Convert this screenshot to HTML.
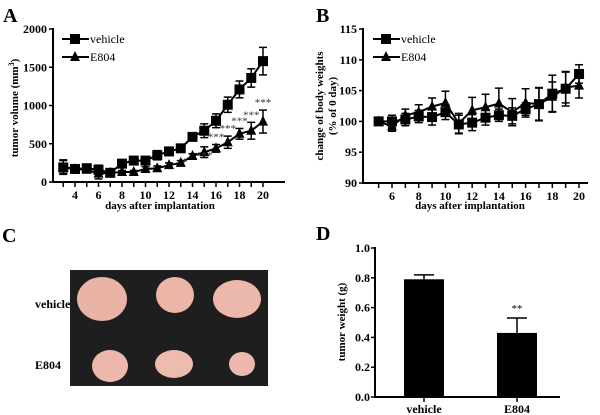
<!DOCTYPE html>
<html><head><meta charset="utf-8"><style>
body{margin:0;background:#fff;}
svg{display:block;font-family:"Liberation Serif",serif;font-weight:bold;}
</style></head><body>
<svg id="fig" width="600" height="415" viewBox="0 0 600 415">
<text x="3" y="22" font-size="20">A</text>
<text x="316" y="22" font-size="20">B</text>
<text x="2" y="242" font-size="20">C</text>
<text x="316" y="240" font-size="20">D</text>
<g id="gA"></g>
<g id="gB"></g>
<g id="gC">
<rect x="70" y="270" width="198" height="116" fill="#1e1e1f"/>
<ellipse cx="102" cy="299" rx="25" ry="22" fill="#e9b3a6"/>
<ellipse cx="175" cy="295" rx="19" ry="18" fill="#ebb5a8"/>
<ellipse cx="237" cy="299" rx="24" ry="19" fill="#ebb8ab"/>
<ellipse cx="110" cy="366" rx="18" ry="16" fill="#ebb8ab"/>
<ellipse cx="174" cy="364" rx="19" ry="14" fill="#edbcae"/>
<ellipse cx="242" cy="364" rx="13" ry="12" fill="#ebb8ab"/>
<text x="35" y="308" font-size="12">vehicle</text>
<text x="35" y="369" font-size="12">E804</text>
</g>
<g id="gD"></g>
</svg>
<script>
const ns="http://www.w3.org/2000/svg";
const daysA=[3,4,5,6,7,8,9,10,11,12,13,14,15,16,17,18,19,20];
const vehA=[190,170,180,160,120,240,280,280,350,400,440,590,670,800,1010,1210,1360,1580];
const vehAerr=[90,40,50,60,20,30,40,40,60,50,50,50,90,90,100,110,120,180];
const e804A=[200,170,160,110,120,130,130,170,180,220,250,340,390,440,520,630,670,790];
const e804Aerr=[90,40,40,70,20,20,20,30,30,30,30,30,70,50,80,70,110,150];
const sigA=[[14,"*"],[15,"***"],[16,"***"],[17,"***"],[18,"***"],[19,"***"],[20,"***"]];
const yTicksA=[0,500,1000,1500,2000];
const xTicksA=[4,6,8,10,12,14,16,18,20];
const daysB=[5,6,7,8,9,10,11,12,13,14,15,16,17,18,19,20];
const vehB=[100,100,100.3,100.8,100.7,101.5,99.5,99.8,100.6,101,100.9,102,102.8,104.5,105.3,107.7];
const vehBerr=[0.6,1,1,1,1.3,1.2,1.5,1.3,1.2,1,1.3,1,2.7,3,2.8,1.5];
const e804B=[100,99.2,101,101.5,102.4,103,99.7,101.8,102.3,102.9,101.5,103,102.8,104,105.5,105.8];
const e804Berr=[0.5,0.8,1,1.2,1.4,1.9,1.6,2.1,2.1,2.5,2.2,2.3,2.6,2.4,2.5,2];
const yTicksB=[90,95,100,105,110,115];
const xTicksB=[6,8,10,12,14,16,18,20];
const catsD=["vehicle","E804"];
const valsD=[0.79,0.43];
const errsD=[0.03,0.1];
const yTicksD=[0,0.2,0.4,0.6,0.8,1.0];

function el(p,t,a,txt){const e=document.createElementNS(ns,t);for(const k in a)e.setAttribute(k,a[k]);if(txt!==undefined)e.textContent=txt;p.appendChild(e);return e;}

function lineChart(g,o){
  const X=d=>o.x0+(d-o.d0)*o.dx, Y=v=>o.y0-(v-o.v0)/(o.v1-o.v0)*(o.y0-o.y1);
  el(g,"line",{x1:o.ax,y1:o.y1-1,x2:o.ax,y2:o.y0+1,stroke:"#000","stroke-width":2});
  el(g,"line",{x1:o.ax,y1:o.y0,x2:o.xend,y2:o.y0,stroke:"#000","stroke-width":2});
  o.yt.forEach(v=>{el(g,"line",{x1:o.ax-4,y1:Y(v),x2:o.ax,y2:Y(v),stroke:"#000","stroke-width":1.5});
    const t=el(g,"text",{x:o.ax-6,y:Y(v)+4,"font-size":12,"text-anchor":"end"},String(v));
    });
  o.days.forEach(d=>el(g,"line",{x1:X(d),y1:o.y0,x2:X(d),y2:o.y0+5,stroke:"#000","stroke-width":1.5}));
  o.xt.forEach(d=>{const t=el(g,"text",{x:X(d),y:o.y0+17,"font-size":12,"text-anchor":"middle"},String(d));
    });
  const xt=el(g,"text",{x:o.xtx,y:209,"font-size":11,"text-anchor":"middle"},"days after implantation");
  
  [[o.s2,o.e2,"tri"],[o.s1,o.e1,"sq"]].forEach(([s,e,m])=>{
    const sg=el(g,"g",{});
    
    el(sg,"polyline",{points:o.days.map((d,i)=>X(d)+","+Y(s[i])).join(" "),fill:"none",stroke:"#000","stroke-width":2});
    o.days.forEach((d,i)=>{const x=X(d);
      el(sg,"line",{x1:x,y1:Y(s[i]-e[i]),x2:x,y2:Y(s[i]+e[i]),stroke:"#000","stroke-width":1.5});
      el(sg,"line",{x1:x-4,y1:Y(s[i]+e[i]),x2:x+4,y2:Y(s[i]+e[i]),stroke:"#000","stroke-width":1.5});
      el(sg,"line",{x1:x-4,y1:Y(s[i]-e[i]),x2:x+4,y2:Y(s[i]-e[i]),stroke:"#000","stroke-width":1.5});
      const y=Y(s[i]);
      if(m=="sq") el(sg,"rect",{x:x-5,y:y-5,width:10,height:10,fill:"#000"});
      else el(sg,"polygon",{points:`${x},${y-6} ${x+5},${y+4} ${x-5},${y+4}`,fill:"#000"});
    });
  });
  // legend
  const lg=el(g,"g",{});
  el(lg,"line",{x1:o.lx,y1:39,x2:o.lx+27,y2:39,stroke:"#000","stroke-width":2});
  el(lg,"rect",{x:o.lx+8,y:34,width:10,height:10,fill:"#000"});
  el(lg,"text",{x:o.lx+28,y:43,"font-size":12,"font-weight":"normal"},"vehicle");
  el(lg,"line",{x1:o.lx,y1:57,x2:o.lx+27,y2:57,stroke:"#000","stroke-width":2});
  el(lg,"polygon",{points:`${o.lx+13},${51} ${o.lx+18},${61} ${o.lx+8},${61}`,fill:"#000"});
  el(lg,"text",{x:o.lx+28,y:61,"font-size":12,"font-weight":"normal"},"E804");
  return {X,Y};
}
const gA=document.getElementById("gA");
const A=lineChart(gA,{x0:75,d0:4,dx:11.75,y0:182,y1:29,v0:0,v1:2000,ax:53,xend:285,yt:yTicksA,xt:xTicksA,days:daysA,s1:vehA,e1:vehAerr,s2:e804A,e2:e804Aerr,xtx:160,lx:62});
sigA.forEach(([d,s])=>{const i=daysA.indexOf(d);
  const t=el(gA,"text",{x:A.X(d)+(s=="*"?-8:0),y:A.Y(e804A[i]+e804Aerr[i])-4+(d<16?16:0),"font-size":11,"font-weight":"normal","text-anchor":"middle",fill:"#333"},s);
  });
const ya=el(gA,"text",{transform:"translate(18,108) rotate(-90)","font-size":11,"text-anchor":"middle"});

ya.innerHTML='tumor volume (mm<tspan dy="-4" font-size="8">3</tspan><tspan dy="4">)</tspan>';
const gB=document.getElementById("gB");
lineChart(gB,{x0:392,d0:6,dx:13.36,y0:183,y1:29,v0:90,v1:115,ax:363,xend:588,yt:yTicksB,xt:xTicksB,days:daysB,s1:vehB,e1:vehBerr,s2:e804B,e2:e804Berr,xtx:470,lx:373});
const yb1=el(gB,"text",{transform:"translate(323,106) rotate(-90)","font-size":11,"text-anchor":"middle"},"change of body weights");

const yb2=el(gB,"text",{transform:"translate(336,106) rotate(-90)","font-size":11,"text-anchor":"middle"},"(% of 0 day)");


// Panel D
const gD=document.getElementById("gD");
const Dy0=397,Dy1=248,Dax=375,YD=v=>Dy0-v*(Dy0-Dy1);
const XD=i=>424+i*93;
el(gD,"line",{x1:Dax,y1:Dy1-1,x2:Dax,y2:Dy0+1,stroke:"#000","stroke-width":2});
el(gD,"line",{x1:Dax,y1:Dy0,x2:560,y2:Dy0,stroke:"#000","stroke-width":2});
yTicksD.forEach(v=>{el(gD,"line",{x1:Dax-4,y1:YD(v),x2:Dax,y2:YD(v),stroke:"#000","stroke-width":1.5});
  const t=el(gD,"text",{x:Dax-5,y:YD(v)+4,"font-size":12,"text-anchor":"end"},v.toFixed(1));
  });
catsD.forEach((c,i)=>{const x=XD(i);
  el(gD,"line",{x1:x,y1:Dy0,x2:x,y2:Dy0+5,stroke:"#000","stroke-width":1.5});
  const t=el(gD,"text",{x:x,y:Dy0+16,"font-size":12,"text-anchor":"middle"},c);
  
  const b=el(gD,"rect",{x:x-20,y:YD(valsD[i]),width:40,height:Dy0-YD(valsD[i]),fill:"#000"});
  
  const ye=YD(valsD[i]+errsD[i]);
  el(gD,"line",{x1:x,y1:YD(valsD[i]),x2:x,y2:ye,stroke:"#000","stroke-width":1.5});
  el(gD,"line",{x1:x-10,y1:ye,x2:x+10,y2:ye,stroke:"#000","stroke-width":1.5});
});
const st=el(gD,"text",{x:XD(1),y:YD(valsD[1]+errsD[1])-6,"font-size":11,"font-weight":"normal","text-anchor":"middle"},"**");

const yd=el(gD,"text",{transform:"translate(345,322) rotate(-90)","font-size":11,"text-anchor":"middle"},"tumor weight (g)");

</script>
</body></html>
